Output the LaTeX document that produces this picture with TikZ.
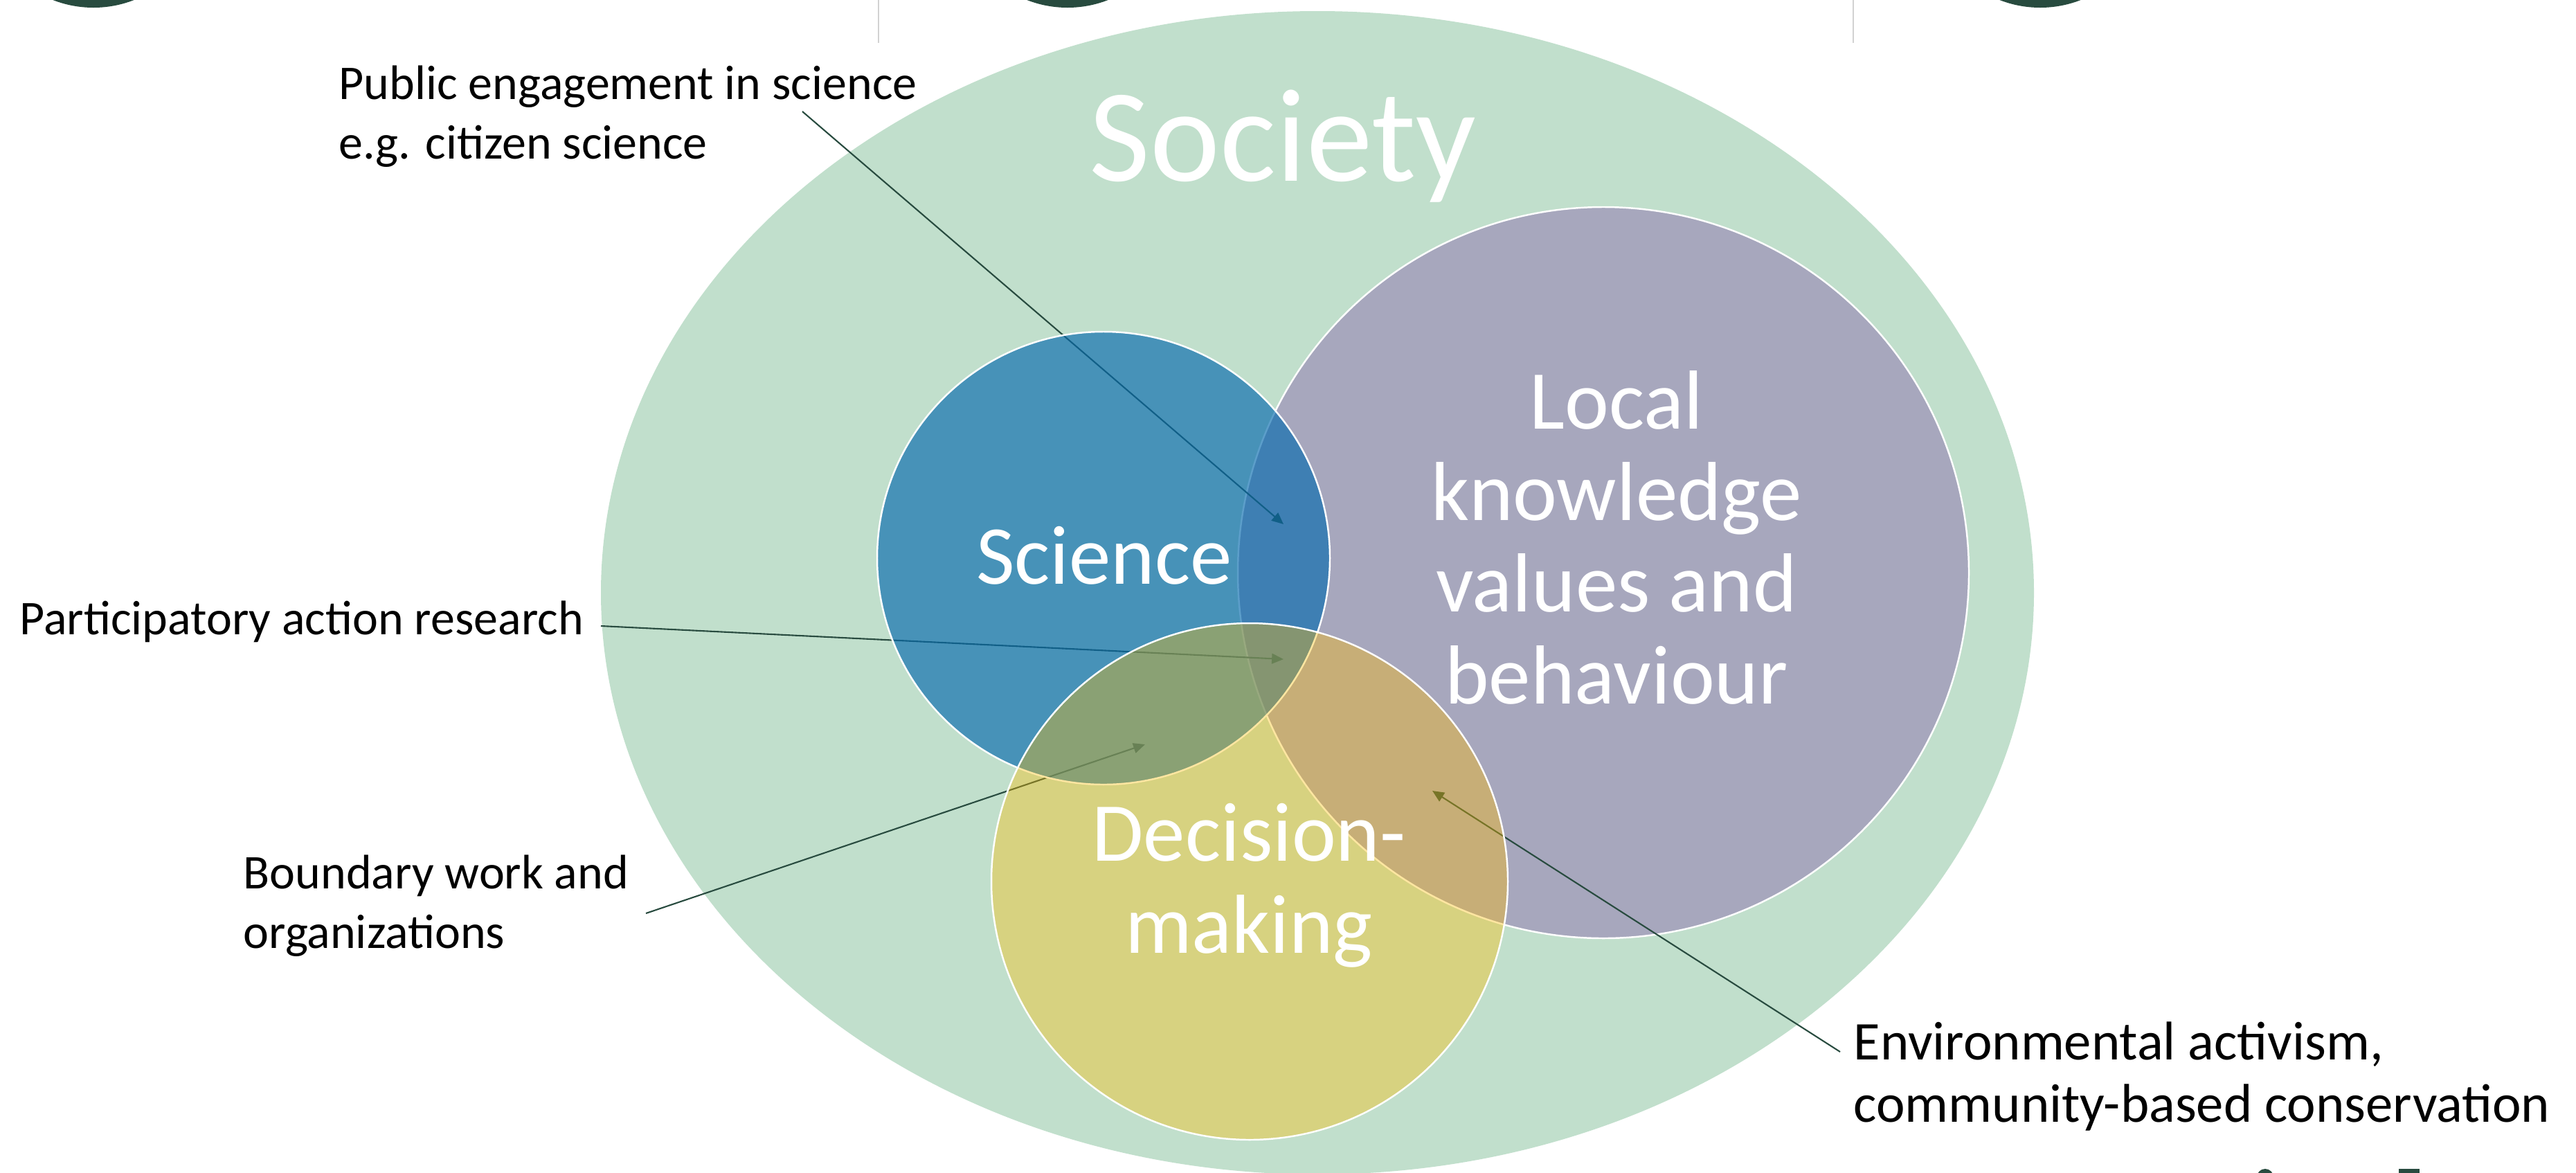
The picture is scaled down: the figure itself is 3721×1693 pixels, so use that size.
\documentclass[tikz,border=0pt]{standalone}
\usepackage{fontspec}
\setmainfont{Carlito}
\usetikzlibrary{arrows.meta}
\definecolor{socgreen}{RGB}{193,223,204}
\definecolor{locpurple}{RGB}{167,167,189}
\definecolor{scib}{RGB}{6,106,174}
\definecolor{decy}{RGB}{255,188,0}
\definecolor{dgreen}{RGB}{40,75,63}
\definecolor{vline}{RGB}{210,210,210}
\begin{document}
\begin{tikzpicture}[x=0.01cm,y=-0.01cm,
  lbl/.style={font=\fontsize{19.9}{24.2}\selectfont, inner sep=0pt, align=left, text=black},
  lblbig/.style={font=\fontsize{22.4}{25.6}\selectfont, inner sep=0pt, align=left, text=black},
  big/.style={font=\fontsize{34.4}{37.6}\selectfont, text=white, inner sep=0pt, align=center},
  huge/.style={font=\fontsize{54.4}{60}\selectfont, text=white, inner sep=0pt},
  conn/.style={draw=dgreen, line width=0.6pt, -{Triangle[length=4.8pt,width=4.2pt]}},
  ring/.style={draw=white, line width=0.7pt}]
\useasboundingbox (0,0) rectangle (3721,1693);
% top decorations
\fill[dgreen] (135,-150) circle[radius=161];
\fill[dgreen] (1542,-150) circle[radius=161];
\fill[dgreen] (2947,-150) circle[radius=161];
\draw[vline, line width=0.45pt] (1269,0) -- (1269,62);
\draw[vline, line width=0.45pt] (2677,0) -- (2677,62);
% bottom right partial glyphs
\fill[dgreen] (3272,1700) ellipse[x radius=12, y radius=12];
\fill[dgreen] (3465,1688) rectangle (3495,1700);
% society
\fill[socgreen] (1903,856) ellipse[x radius=1035, y radius=840];
\node[huge, anchor=base] (soc) at (1853,261) {Society};
% local knowledge circle
\draw[ring, fill=locpurple] (2316,827) circle[radius=528];
% connector end points
\coordinate (pubS) at (1159,161);
\coordinate (pubT) at (1854,757);
\coordinate (parS) at (868,904);
\coordinate (parT) at (1854,952);
\coordinate (bouS) at (933,1319);
\coordinate (bouT) at (1654,1075);
\coordinate (envS) at (2658,1519);
\coordinate (envT) at (2069,1142);
\draw[conn] (pubS) -- (pubT);
\draw[conn] (parS) -- (parT);
\draw[conn] (bouS) -- (bouT);
\draw[conn] (envS) -- (envT);
% science and decision circles
\draw[ring, fill=scib, fill opacity=0.65] (1594,806) circle[radius=327];
\draw[ring, fill=decy, fill opacity=0.37] (1805,1273) circle[radius=373];
% circle texts
\node[big, anchor=base] (sci) at (1595,843) {Science};
\node[big, anchor=base] (loc) at (2335,1016) {Local\\knowledge\\values and\\behaviour};
\node[big, anchor=base] (dec) at (1804,1376) {Decision-\\making};
% labels
\node[lbl, anchor=base west] (pub) at (489,229) {Public engagement in science\\e.g. citizen science};
\node[lbl, anchor=base west] (par) at (28,916) {Participatory action research};
\node[lbl, anchor=base west] (bou) at (351,1369) {Boundary work and\\organizations};
\node[lblbig, anchor=base west] (env) at (2677,1620) {Environmental activism,\\community-based conservation};
\end{tikzpicture}
\end{document}
